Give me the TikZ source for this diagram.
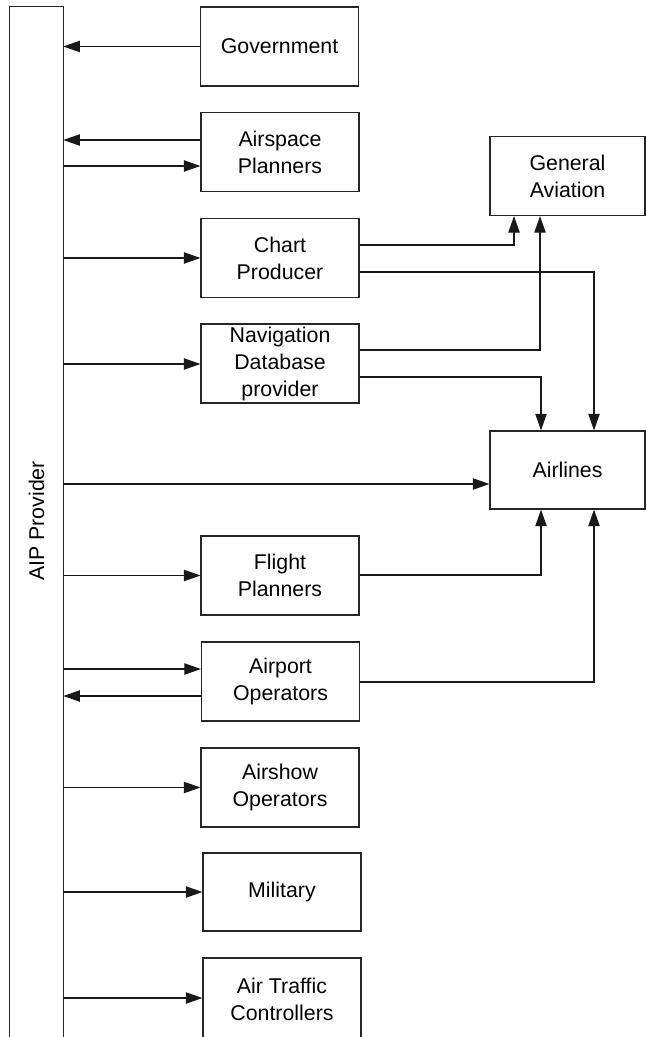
\documentclass[tikz,border=0pt]{standalone}
\usepackage{fontspec}
\setmainfont{Liberation Sans}
\usetikzlibrary{arrows.meta}
\begin{document}
\begin{tikzpicture}[x=0.75pt,y=-0.75pt,
  box/.style={draw=black!85, line width=0.8pt, minimum width=118.5pt, minimum height=59.25pt,
    inner sep=0pt, align=center, font=\fontsize{16}{20.25}\selectfont},
  arr/.style={draw=black!90, line width=0.95pt, -{Triangle[length=12.5pt,width=8.5pt]}},
  ln/.style={draw=black!85, line width=0.8pt}]
\useasboundingbox (0,0) rectangle (646,1037);
% AIP provider (open at the bottom, runs off the page)
\node[minimum width=39.75pt, minimum height=771pt, inner sep=0pt,
  font=\fontsize{16}{20.25}\selectfont] (aip) at (36.5,521) {\rotatebox{90}{AIP Provider}};
\draw[ln] ([yshift=-10pt]aip.south west) -- (aip.north west) -- (aip.north east) -- ([yshift=-10pt]aip.south east);
% boxes
\node[box] (gov) at (279.5,46.5) {Government};
\node[box] (asp) at (280,152) {Airspace\\Planners};
\node[box] (chart) at (280,258) {Chart\\Producer};
\node[box] (nav) at (280,363.5) {Navigation\\Database\\provider};
\node[box, minimum width=116.25pt] (ga) at (567.5,176) {General\\Aviation};
\node[box, minimum width=116.25pt, minimum height=58.5pt] (air) at (567.5,470) {Airlines};
\node[box] (fp) at (280,575.5) {Flight\\Planners};
\node[box] (apo) at (280.5,681.5) {Airport\\Operators};
\node[box] (aso) at (280,787.5) {Airshow\\Operators};
\node[box, minimum height=58.5pt] (mil) at (282,892) {Military};
\node[box, minimum height=61.5pt] (atc) at (282,999) {Air Traffic\\Controllers};
% AIP connections
\draw[arr] (gov.west) -- (gov.west -| aip.east);
\draw[arr] (asp.west |- 0,140) -- (aip.east |- 0,140);
\draw[arr] (aip.east |- 0,166) -- (asp.west |- 0,166);
\draw[arr] (aip.east |- chart.west) -- (chart.west);
\draw[arr] (aip.east |- 0,364) -- (nav.west |- 0,364);
\draw[arr] (aip.east |- 0,484) -- (air.west |- 0,484);
\draw[arr] (aip.east |- fp.west) -- (fp.west);
\draw[arr] (aip.east |- 0,669) -- (apo.west |- 0,669);
\draw[arr] (apo.west |- 0,696) -- (aip.east |- 0,696);
\draw[arr] (aip.east |- aso.west) -- (aso.west);
\draw[arr] (aip.east |- mil.west) -- (mil.west);
\draw[arr] (aip.east |- 0,998) -- (atc.west |- 0,998);
% to general aviation / airlines
\draw[arr] (chart.east |- 0,245) -| (ga.south -| 514,0);
\draw[arr] (chart.east |- 0,272) -| (air.north -| 594,0);
\draw[arr] (nav.east |- 0,350) -| (ga.south -| 540,0);
\draw[arr] (nav.east |- 0,377) -| (air.north -| 541,0);
\draw[arr] (fp.east |- 0,575) -| (air.south -| 541,0);
\draw[arr] (apo.east |- 0,682) -| (air.south -| 594,0);
\end{tikzpicture}
\end{document}
